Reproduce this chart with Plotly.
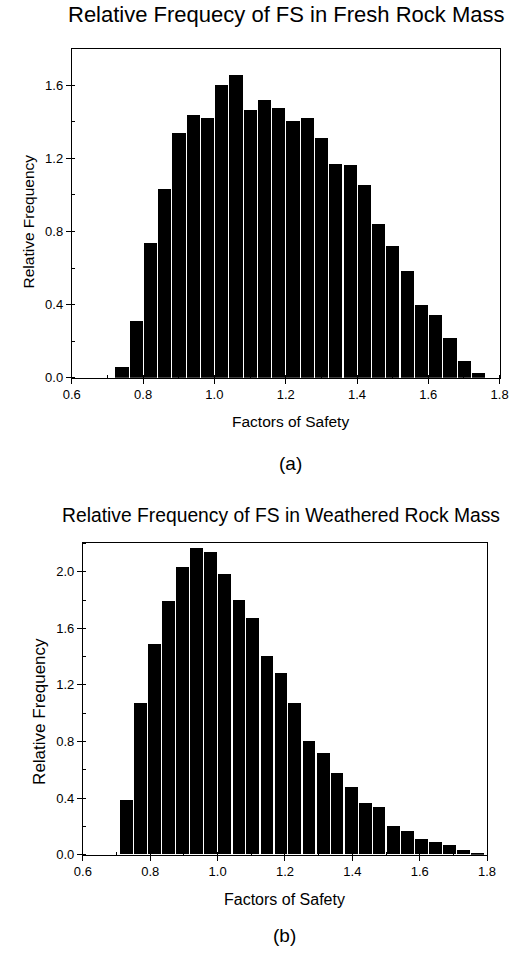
import plotly.graph_objects as go

# ---------------- data ----------------
fresh_fs = [0.74, 0.78, 0.82, 0.86, 0.90, 0.94, 0.98, 1.02, 1.06, 1.10, 1.14, 1.18, 1.22,
            1.26, 1.30, 1.34, 1.38, 1.42, 1.46, 1.50, 1.54, 1.58, 1.62, 1.66, 1.70, 1.74]
fresh_freq = [0.063, 0.315, 0.738, 1.036, 1.342, 1.441, 1.425, 1.602, 1.660, 1.468, 1.521, 1.476, 1.409,
              1.425, 1.311, 1.170, 1.168, 1.054, 0.844, 0.725, 0.586, 0.400, 0.345, 0.219, 0.096, 0.029]

weathered_fs = [0.729, 0.771, 0.813, 0.854, 0.896, 0.938, 0.979, 1.021, 1.063, 1.104, 1.146, 1.188, 1.229,
                1.271, 1.313, 1.354, 1.396, 1.438, 1.479, 1.521, 1.563, 1.604, 1.646, 1.688, 1.729, 1.771]
weathered_freq = [0.385, 1.070, 1.485, 1.793, 2.028, 2.168, 2.135, 1.979, 1.795, 1.667, 1.401, 1.284, 1.072,
                  0.802, 0.718, 0.573, 0.473, 0.361, 0.333, 0.200, 0.168, 0.112, 0.084, 0.063, 0.030, 0.009]

title_a = "Relative Frequecy of FS in Fresh Rock Mass"
title_b = "Relative Frequency of FS in Weathered Rock Mass"
x_title = "Factors of Safety"
y_title = "Relative Frequency"

# ---------------- figure ----------------
W, H = 526, 954
FONT = "Liberation Sans, Arial, sans-serif"

def px_x(p):
    return p / W

def px_y(p):
    return 1 - p / H

fig = go.Figure()
fig.add_trace(go.Bar(x=fresh_fs, y=fresh_freq, width=0.037, marker=dict(color="black", line=dict(width=0)),
                     xaxis="x", yaxis="y", showlegend=False))
fig.add_trace(go.Bar(x=weathered_fs, y=weathered_freq, width=0.038, marker=dict(color="black", line=dict(width=0)),
                     xaxis="x2", yaxis="y2", showlegend=False))

def xaxis(domain, anchor):
    return dict(domain=domain, anchor=anchor, range=[0.6, 1.8], tick0=0.6, dtick=0.2, tickformat=".1f",
                showline=True, linecolor="black", linewidth=1, mirror=True,
                ticks="outside", ticklen=5, tickwidth=1, tickcolor="black",
                minor=dict(ticks="inside", ticklen=3, dtick=0.1, tick0=0.6, tickcolor="black", showgrid=False),
                showgrid=False, zeroline=False,
                tickfont=dict(family=FONT, size=13, color="black"))

def yaxis(domain, anchor, rng):
    return dict(domain=domain, anchor=anchor, range=rng, tick0=0, dtick=0.4, tickformat=".1f",
                showline=True, linecolor="black", linewidth=1, mirror=True,
                ticks="outside", ticklen=5, tickwidth=1, tickcolor="black",
                minor=dict(ticks="inside", ticklen=3, dtick=0.2, tick0=0, tickcolor="black", showgrid=False),
                showgrid=False, zeroline=False,
                tickfont=dict(family=FONT, size=13, color="black"))

fig.update_layout(
    width=W, height=H,
    margin=dict(l=0, r=0, t=0, b=0),
    paper_bgcolor="white", plot_bgcolor="white",
    bargap=0,
    xaxis=xaxis([px_x(65), px_x(508)], "y"),
    yaxis=yaxis([px_y(381), px_y(49)], "x", [0, 1.8]),
    xaxis2=xaxis([px_x(76.5), px_x(495)], "y2"),
    yaxis2=yaxis([px_y(862), px_y(548)], "x2", [0, 2.2]),
)

def ann(text, x, y, size, angle=0):
    fig.add_annotation(text=text, x=px_x(x), y=px_y(y), xref="paper", yref="paper",
                       xanchor="center", yanchor="middle", showarrow=False, textangle=angle,
                       font=dict(family=FONT, size=size, color="black"))

ann(title_a, 287, 15, 22)
ann(x_title, 291, 425, 15.5)
ann(y_title, 20, 223, 15.5, -90)
ann("(a)", 291, 467, 19)

ann(title_b, 282, 520, 19.3)
ann(x_title, 285, 907, 16)
ann(y_title, 32, 717, 17, -90)
ann("(b)", 285, 943, 19)

fig.write_html("out.html")
